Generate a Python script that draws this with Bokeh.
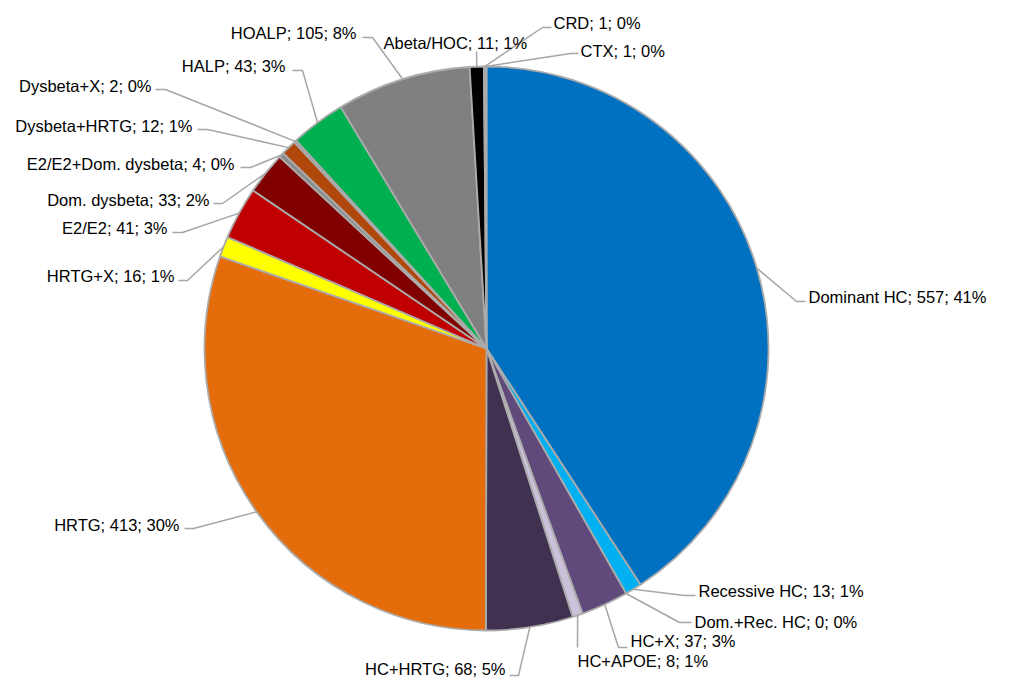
import math
from bokeh.plotting import figure
from bokeh.models import ColumnDataSource, Range1d
from bokeh.embed import file_html
from bokeh.resources import INLINE
from bokeh.core.properties import value

# ---------------- data ----------------
categories = ["Dominant HC", "Recessive HC", "Dom.+Rec. HC", "HC+X", "HC+APOE",
              "HC+HRTG", "HRTG", "HRTG+X", "E2/E2", "Dom. dysbeta",
              "E2/E2+Dom. dysbeta", "Dysbeta+HRTG", "Dysbeta+X", "HALP",
              "HOALP", "Abeta/HOC", "CRD", "CTX"]
counts = [557, 13, 0, 37, 8, 68, 413, 16, 41, 33, 4, 12, 2, 43, 105, 11, 1, 1]
colors = ["#0070C0", "#00B0F0", "#7F7F7F", "#604A7B", "#CCC1DA",
          "#403151", "#E46C0A", "#FFFF00", "#C00000", "#800000",
          "#8C8C8C", "#B0480C", "#9A9A9A", "#00B050",
          "#808080", "#000000", "#BFBFBF", "#BFBFBF"]

# label layout (image pixel coords): text x, text y, align, knee x, knee y, end x, end y
label_layout = [
    (808, 296, "left", 796, 301, 805, 301),
    (698, 590, "left", 684, 595, 695, 595),
    (694, 621, "left", 679, 622, 691, 622),
    (630, 640, "left", 618, 647, 627, 647),
    (577, 660, "left", 577, 647, 577, 647),
    (505, 668, "right", 518, 675, 509, 675),
    (179, 524, "right", 193, 528, 184, 528),
    (174, 275, "right", 187, 280, 178, 280),
    (167, 227, "right", 182, 232, 172, 232),
    (209, 199, "right", 222, 203, 213, 203),
    (234, 163, "right", 250, 167, 240, 167),
    (192, 125, "right", 207, 129, 197, 129),
    (151, 85, "right", 165, 89, 155, 89),
    (285, 65, "right", 302, 70, 292, 70),
    (356, 32, "right", 372, 37, 362, 37),
    (383, 42, "left", 476, 51, 476, 51),
    (553, 22, "left", 542, 27, 551, 27),
    (580, 50, "left", 570, 53, 578, 53),
]

W, H = 1019, 697
CX, CY, R = 486, 348, 282   # pie centre / radius in image pixels

def fy(y):
    return H - y

total = sum(counts)

# ---------------- wedges ----------------
starts, ends, mids = [], [], []
cum = 0
for v in counts:
    a0 = math.pi / 2 - 2 * math.pi * cum / total
    a1 = math.pi / 2 - 2 * math.pi * (cum + v) / total
    starts.append(a0)
    ends.append(a1)
    mids.append((a0 + a1) / 2)
    cum += v

wedge_idx = [i for i, v in enumerate(counts) if v > 0]
wsrc = ColumnDataSource(dict(
    start=[starts[i] for i in wedge_idx],
    end=[ends[i] for i in wedge_idx],
    color=[colors[i] for i in wedge_idx],
))

p = figure(width=W, height=H, x_range=Range1d(0, W), y_range=Range1d(0, H),
           output_backend="svg", toolbar_location=None, min_border=0,
           x_axis_type=None, y_axis_type=None)
p.grid.visible = False
p.outline_line_color = None
p.background_fill_color = "white"
p.border_fill_color = "white"

p.wedge(x=CX, y=fy(CY), radius=R, start_angle="start", end_angle="end",
        direction="clock", fill_color="color", line_color="#ABABAB",
        line_width=1.8, source=wsrc)

# ---------------- leader lines ----------------
xs, ys = [], []
for i, lay in enumerate(label_layout):
    _, _, _, kx, ky, ex, ey = lay
    px = CX + R * math.cos(mids[i])
    py = fy(CY) + R * math.sin(mids[i])
    xs.append([px, kx, ex])
    ys.append([py, fy(ky), fy(ey)])
p.multi_line(xs=xs, ys=ys, line_color="#A6A6A6", line_width=1.5)

# ---------------- labels ----------------
texts = [f"{c}; {v}; {round(100 * v / total)}%" for c, v in zip(categories, counts)]
for align in ("left", "right"):
    idx = [i for i, l in enumerate(label_layout) if l[2] == align]
    src = ColumnDataSource(dict(
        x=[label_layout[i][0] for i in idx],
        y=[fy(label_layout[i][1]) for i in idx],
        t=[texts[i] for i in idx],
    ))
    p.text(x="x", y="y", text="t", source=src, text_align=align,
           text_baseline="middle", text_font=value("Liberation Sans"),
           text_font_size="16.5px", text_color="#000000")

open("out.html", "w").write(file_html(p, INLINE))
